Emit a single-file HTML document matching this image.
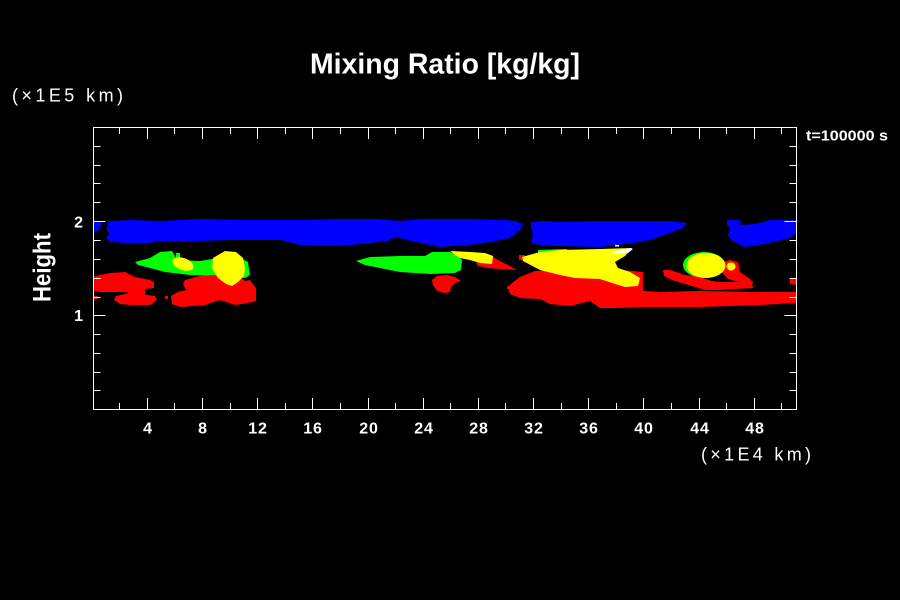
<!DOCTYPE html>
<html>
<head>
<meta charset="utf-8">
<style>
  html, body { margin:0; padding:0; background:#000; }
  body { width:900px; height:600px; overflow:hidden; }
  svg { display:block; }
  .lbl { font-family:"Liberation Sans", sans-serif; fill:#fff; }
</style>
</head>
<body>
<svg width="900" height="600" viewBox="0 0 900 600" xmlns="http://www.w3.org/2000/svg">
  <rect x="0" y="0" width="900" height="600" fill="#000"/>

  <!-- ===== DATA ===== -->
  <!-- Blue -->
  <g fill="#0000ff">
    <polygon points="93,221 101,221 101,226 98,231 93,232"/>
    <polygon points="108,221 130,220 160,221 200,219 250,220 300,220 340,219 380,219 400,221 420,219 470,219 505,220 515,221 523,224 520,230 510,238 490,242 470,245 440,247 415,242 400,238 395,237 388,241 370,243 340,246 300,245 280,240 250,240 230,240 200,241 160,241 150,243 125,243 110,242 106,238 110,233 106,230 108,225"/>
    <polygon points="531,222 545,221 560,222 600,221 640,221 670,221 687,223 683,228 670,233 650,240 633,243 600,247 560,246 540,245 531,243 533,235 531,228"/>
    <polygon points="727,220 740,220 741,225 755,224 770,220 796,220 796,233 790,238 760,245 745,247 733,241 728,236 730,228 727,225"/>
  </g>

  <!-- Green -->
  <g fill="#00ff00">
    <polygon points="135,262 150,258 160,252 172,251 175,256 176,260 200,261 212,259 240,258 248,262 250,275 245,278 215,276 190,275 165,272 150,268 138,265"/>
    <rect x="176" y="253" width="4" height="5"/>
    <polygon points="356,261 370,257 400,256 425,256 432,252 450,252 458,256 462,260 461,270 455,273 430,274 400,272 380,268 365,265"/>
    <ellipse cx="704" cy="265" rx="21" ry="13"/>
    <polygon points="538,250 567,249 567,252 538,253"/>
  </g>

  <!-- Red -->
  <g fill="#ff0000">
    <polygon points="93,277 100,275 110,273 125,272 135,277 150,280 154,282 154,288 145,289 140,293 120,292 100,292 93,291"/>
    <polygon points="128,288 145,288 145,296 128,296"/>
    <polygon points="116,296 125,294 140,294 155,296 157,300 150,305 130,305 120,304 114,300"/>
    <rect x="93" y="296" width="5" height="3"/>
    <rect x="165" y="296" width="3" height="3"/>
    <polygon points="185,280 200,276 215,275 230,275 240,277 245,281 250,280 256,288 256,301 248,303 235,305 220,300 205,305 180,307 172,304 171,296 178,292 186,290 183,284"/>
    <polygon points="476,263 488,258 492,256 498,260 508,265 517,270 500,269 488,268 478,266"/>
    <polygon points="437,276 447,275 455,277 461,281 455,283 451,287 450,292 445,293 437,291 433,285 432,280"/>
    <rect x="507" y="286" width="3" height="3"/>
    <polygon points="508,287 512,283 520,277 535,271 560,270 600,270 620,270 633,271 643,272 643,291 660,292 700,291 760,292 796,292 796,303 760,305 700,307 640,307 620,308 610,308 600,308 590,301 570,306 550,304 540,299 520,298 510,294"/>
    <polygon points="663,270 670,270 685,275 700,277 712,281 720,282 735,282 752,283 753,288 735,289 720,290 705,290 695,287 685,284 672,280 664,276"/>
    <polygon points="722,262 730,260 738,262 740,272 750,279 754,283 745,284 735,281 728,279 722,272"/>
    <polygon points="790,278 796,278 796,285 790,284"/>
    <rect x="519" y="255" width="6" height="5"/>
  </g>

  <!-- Yellow -->
  <g fill="#ffff00">
    <ellipse cx="183" cy="264" rx="11" ry="6" transform="rotate(20 183 264)"/>
    <polygon points="225,251 236,252 243,258 245,268 244,276 238,282 232,286 226,284 218,278 212,268 213,258"/>
    <polygon points="450,251 470,252 485,253 493,256 492,264 480,263 470,260 460,258 455,255"/>
    <polygon points="522,257 540,252 560,250 600,249 632,248 625,256 615,262 618,268 630,272 640,278 638,286 625,287 612,283 600,279 575,278 560,275 540,270 523,261"/>
    <ellipse cx="706" cy="265.5" rx="19.5" ry="12.5"/>
    <ellipse cx="731" cy="266.5" rx="4.5" ry="4"/>
  </g>

  <!-- White highlight -->
  <polygon points="612,252 630,248 633,249 628,253 615,254" fill="#ffffff"/>
  <rect x="615" y="245" width="4" height="1.5" fill="#ffffff"/>

  <!-- ===== AXES ===== -->
  <g stroke="#fff" stroke-width="1" fill="none" shape-rendering="crispEdges">
    <rect x="93.5" y="127.5" width="703" height="282"/>
    <path d="M119.5 409.5V403 M147.5 409.5V398 M174.5 409.5V403 M202.5 409.5V398 M230.5 409.5V403 M257.5 409.5V398 M285.5 409.5V403 M312.5 409.5V398 M340.5 409.5V403 M368.5 409.5V398 M395.5 409.5V403 M423.5 409.5V398 M450.5 409.5V403 M478.5 409.5V398 M505.5 409.5V403 M533.5 409.5V398 M561.5 409.5V403 M588.5 409.5V398 M616.5 409.5V403 M643.5 409.5V398 M671.5 409.5V403 M699.5 409.5V398 M726.5 409.5V403 M754.5 409.5V398 M781.5 409.5V403"/>
    <path d="M119.5 127.5V134 M147.5 127.5V139 M174.5 127.5V134 M202.5 127.5V139 M230.5 127.5V134 M257.5 127.5V139 M285.5 127.5V134 M312.5 127.5V139 M340.5 127.5V134 M368.5 127.5V139 M395.5 127.5V134 M423.5 127.5V139 M450.5 127.5V134 M478.5 127.5V139 M505.5 127.5V134 M533.5 127.5V139 M561.5 127.5V134 M588.5 127.5V139 M616.5 127.5V134 M643.5 127.5V139 M671.5 127.5V134 M699.5 127.5V139 M726.5 127.5V134 M754.5 127.5V139 M781.5 127.5V134"/>
    <path d="M93.5 390.5H100.5 M93.5 372.5H100.5 M93.5 353.5H100.5 M93.5 334.5H100.5 M93.5 315.5H105.5 M93.5 297.5H100.5 M93.5 278.5H100.5 M93.5 259.5H100.5 M93.5 240.5H100.5 M93.5 221.5H105.5 M93.5 202.5H100.5 M93.5 183.5H100.5 M93.5 165.5H100.5 M93.5 146.5H100.5"/>
    <path d="M796.5 390.5H789.5 M796.5 372.5H789.5 M796.5 353.5H789.5 M796.5 334.5H789.5 M796.5 315.5H784.5 M796.5 297.5H789.5 M796.5 278.5H789.5 M796.5 259.5H789.5 M796.5 240.5H789.5 M796.5 221.5H784.5 M796.5 202.5H789.5 M796.5 183.5H789.5 M796.5 165.5H789.5 M796.5 146.5H789.5"/>
  </g>

  <!-- ===== TEXT ===== -->
  <text class="lbl" x="445" y="73.5" font-size="29" font-weight="bold" text-anchor="middle" textLength="270" lengthAdjust="spacingAndGlyphs">Mixing Ratio [kg/kg]</text>
  <text class="lbl" x="12" y="101.5" font-size="18" textLength="111" lengthAdjust="spacing">(×1E5 km)</text>
  <text class="lbl" x="701" y="460.5" font-size="18" textLength="110" lengthAdjust="spacing">(×1E4 km)</text>
  <text class="lbl" x="806" y="140.7" font-size="15" font-weight="bold" textLength="82" lengthAdjust="spacingAndGlyphs">t=100000 s</text>
  <text class="lbl" font-size="25" font-weight="bold" text-anchor="middle" textLength="69" lengthAdjust="spacingAndGlyphs" transform="translate(50.5 267.5) rotate(-90)" x="0" y="0">Height</text>

  <g class="lbl" font-size="16" font-weight="bold" text-anchor="end">
    <text x="83" y="227.3">2</text>
    <text x="83" y="321">1</text>
  </g>
  <g class="lbl" font-size="16" font-weight="bold" text-anchor="middle" letter-spacing="0.8">
    <text x="148" y="433.3">4</text>
    <text x="203" y="433.3">8</text>
    <text x="258" y="433.3">12</text>
    <text x="313" y="433.3">16</text>
    <text x="369" y="433.3">20</text>
    <text x="424" y="433.3">24</text>
    <text x="479" y="433.3">28</text>
    <text x="534" y="433.3">32</text>
    <text x="589" y="433.3">36</text>
    <text x="644" y="433.3">40</text>
    <text x="700" y="433.3">44</text>
    <text x="755" y="433.3">48</text>
  </g>
</svg>
</body>
</html>
